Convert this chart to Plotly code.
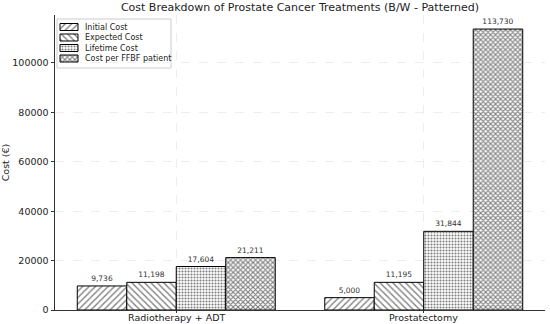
import plotly.graph_objects as go

categories = ["Radiotherapy + ADT", "Prostatectomy"]
series_names = ["Initial Cost", "Expected Cost", "Lifetime Cost", "Cost per FFBF patient"]
initial_cost = [9736, 5000]
expected_cost = [11198, 11195]
lifetime_cost = [17604, 31844]
cost_per_ffbf = [21211, 113730]
y_ticks = [0, 20000, 40000, 60000, 80000, 100000]

values = [initial_cost, expected_cost, lifetime_cost, cost_per_ffbf]
pattern_shapes = ["/", "\\", ".", "x"]
pattern_sizes = [4.5, 4.5, 3, 3.5]
pattern_solid = [0.3, 0.3, 0.4, 0.55]

W, H = 550, 324
L, R, T, B = 55, 5, 15, 14

fig = go.Figure()
for name, vals, shp, sz, so in zip(series_names, values, pattern_shapes, pattern_sizes, pattern_solid):
    fig.add_trace(go.Bar(
        x=categories, y=vals, name=name, showlegend=False,
        marker=dict(color="white",
                    line=dict(color="black", width=1),
                    pattern=dict(shape=shp, size=sz, solidity=so, fgcolor="black", bgcolor="white")),
        texttemplate="%{y:,}", textposition="outside",
        textfont=dict(size=7.5, color="#333333", family="DejaVu Sans"),
        cliponaxis=False, constraintext="none",
    ))

# category labels under the axis
for cat in categories:
    fig.add_annotation(xref="x", yref="paper", x=cat, y=0, yanchor="top", yshift=0,
                       text=cat, showarrow=False,
                       font=dict(size=9.5, color="#222222", family="DejaVu Sans"))

# custom legend drawn in a pixel-unit overlay axis
row_y = [27, 37.5, 48, 58.5]
fig.add_trace(go.Bar(
    y=row_y, x=[18] * 4, base=[60] * 4, orientation="h", width=7,
    xaxis="x2", yaxis="y2", showlegend=False, hoverinfo="skip",
    marker=dict(color="white", line=dict(color="black", width=1),
                pattern=dict(shape=pattern_shapes, size=pattern_sizes, solidity=pattern_solid,
                             fgcolor="black", bgcolor="white")),
))
fig.add_shape(type="rect", xref="x2", yref="y2", x0=57, x1=171, y0=19, y1=68,
              line=dict(color="#cccccc", width=1), fillcolor="white",
              layer="below")
for name, yy in zip(series_names, row_y):
    fig.add_annotation(xref="x2", yref="y2", x=83, y=yy, text=name, showarrow=False,
                       xanchor="left", yanchor="middle",
                       font=dict(size=8, color="#222222", family="DejaVu Sans"))

ymax = max(cost_per_ffbf) * 1.05
fig.update_layout(
    width=W, height=H,
    margin=dict(l=L, r=R, t=T, b=B, autoexpand=False),
    barmode="group", bargap=0.2, bargroupgap=0,
    plot_bgcolor="white", paper_bgcolor="white",
    font=dict(family="DejaVu Sans", size=10, color="#222222"),
    title=dict(text="Cost Breakdown of Prostate Cancer Treatments (B/W - Patterned)",
               x=0.5, xanchor="center", xref="paper", y=0.977, yanchor="middle", yref="container",
               font=dict(size=11, color="#222222")),
    showlegend=False,
    xaxis=dict(range=[-0.49, 1.49], showline=True, linecolor="#333333", linewidth=1,
               showgrid=True, gridcolor="#eeeeee", griddash="dash", gridwidth=0.8,
               ticks="outside", ticklen=2, tickcolor="#333333", automargin=False,
               showticklabels=False),
    yaxis=dict(range=[0, ymax], tickvals=y_ticks, tickformat="d",
               showline=True, linecolor="#333333", linewidth=1,
               showgrid=True, gridcolor="#eeeeee", griddash="dash", gridwidth=0.8,
               ticks="outside", ticklen=3.5, tickcolor="#333333", automargin=False,
               title=dict(text="Cost (€)", font=dict(size=9.5, color="#222222"), standoff=1),
               tickfont=dict(size=9.5), zeroline=False),
    xaxis2=dict(range=[L, W - R], overlaying="x", anchor="y2", visible=False, fixedrange=True),
    yaxis2=dict(range=[H - B, T], overlaying="y", anchor="x2", visible=False, fixedrange=True),
)
fig.write_html("out.html", config={"displayModeBar": False},
               post_script="document.body.style.margin='0';document.body.style.overflow='hidden';")
